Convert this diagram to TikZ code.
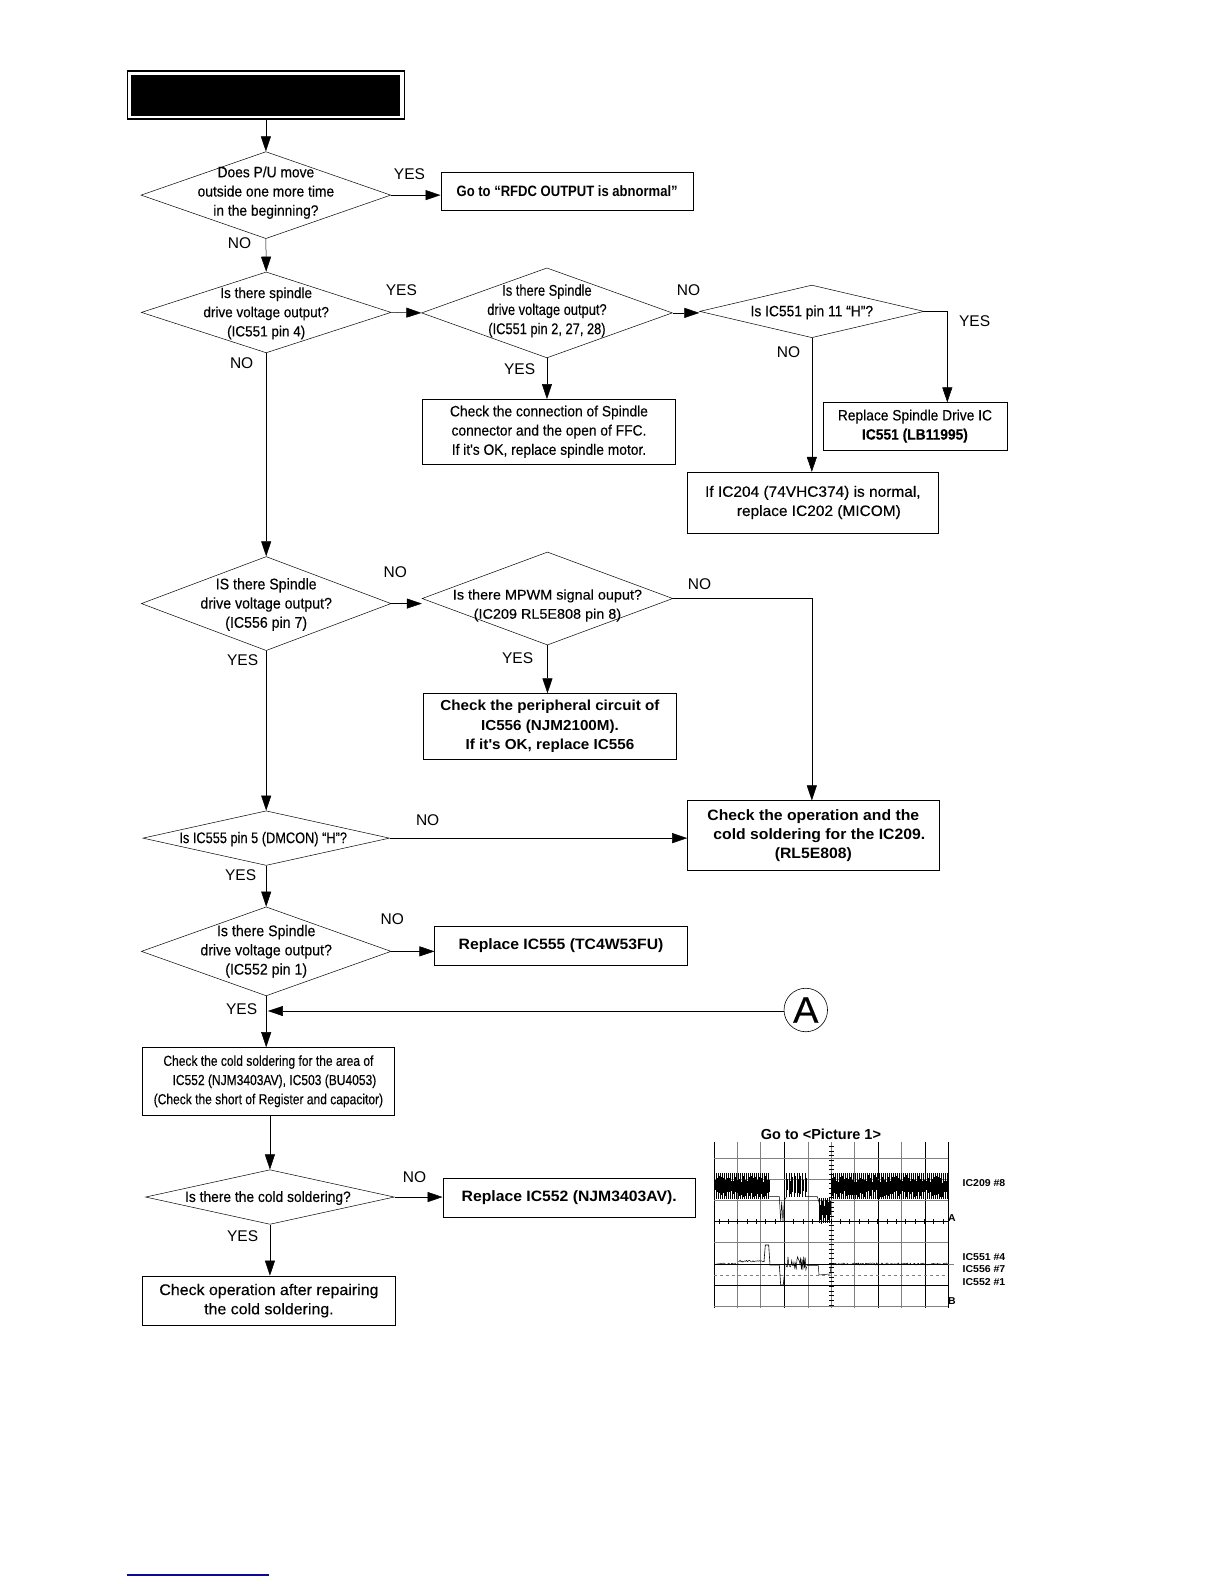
\documentclass[tikz,border=0pt]{standalone}
\usepackage{fontspec}
\setmainfont{Liberation Sans}
\newfontfamily\snugfont[FakeStretch=0.83,FakeBold=0.25]{Liberation Sans}
\newfontfamily\midfont[FakeStretch=0.92,FakeBold=0.25]{Liberation Sans}
\newfontfamily\fullfont[FakeStretch=1.03,FakeBold=0.25]{Liberation Sans}
\newfontfamily\heavyfont[FakeStretch=1.05,UprightFont=* Bold]{Liberation Sans}
\newfontfamily\heavysnug[FakeStretch=0.87,UprightFont=* Bold]{Liberation Sans}
\usetikzlibrary{shapes.geometric,arrows.meta}
\tikzset{
  decide/.style 2 args={draw,diamond,inner sep=0pt,minimum width=1.011*#1,minimum height=1.011*#2,line width=0.5pt,aspect=2.8},
  qtext/.style={align=center,font=\midfont\fontsize{15}{19.2}\selectfont,inner sep=0pt},
  actbox/.style 2 args={draw,rectangle,inner sep=0pt,minimum width=1.011*#1,minimum height=1.011*#2,line width=0.5pt,align=center,font=\midfont\fontsize{15}{19.2}\selectfont},
  actboxb/.style 2 args={actbox={#1}{#2},font=\heavyfont\fontsize{15}{19.2}\selectfont},
  answer/.style={font=\fontsize{15.5}{18}\selectfont,inner sep=0pt},
  gridgray/.style={draw=black!50,line width=0.5pt},
  gridblack/.style={draw=black,line width=0.7pt},
  scopetext/.style={font=\heavyfont\fontsize{10}{12}\selectfont,inner sep=0pt,anchor=center}
}
\newcommand{\noiseblock}[4]{%
  \foreach \xn in {#1,...,#2} {
    \pgfmathsetmacro\yta{#3+6+rnd*22}
    \pgfmathsetmacro\ytb{#4-6-rnd*22}
    \draw[line width=0.4pt] (\xn,#3) -- (\xn,#4);
    \draw[line width=0.8pt] (\xn+3,\yta) -- (\xn+3,\ytb);
  }}
\begin{document}
\begin{tikzpicture}[x=1.011pt,y=-1.011pt]
  \useasboundingbox (0pt,0pt) rectangle (1224pt,-1584pt);
  \fill[white] (0pt,0pt) rectangle (1224pt,-1584pt);
  % top box
  \node (title) at (263,94) [draw,fill=white,line width=1.2pt,minimum width=277,minimum height=48,inner sep=0pt] {};
  \node (titlefill) at (title) [fill=black,minimum width=269,minimum height=41,inner sep=0pt] {};
  % first column
  \node (d1) at (263,193) [decide={247}{86},label={[qtext,yshift=2.5pt]center:{Does P/U move\\outside one more time\\in the beginning?}}] {};
  \node (d2) at (263.3,309) [decide={247}{80},label={[qtext,yshift=-1pt,font=\midfont\fontsize{14.7}{19.2}\selectfont]center:{Is there spindle\\drive voltage output?\\(IC551 pin 4)}}] {};
  \node (d5) at (263.3,597) [decide={247}{93},label={[qtext,yshift=-1pt,font=\midfont\fontsize{15.4}{19.2}\selectfont]center:{IS there Spindle\\drive voltage output?\\(IC556 pin 7)}}] {};
  \node (d7) at (263.3,829) [decide={244}{54},label={[qtext,xshift=-3pt,yshift=-1pt,font=\snugfont\fontsize{15.4}{19}\selectfont]center:{Is IC555 pin 5 (DMCON) “H”?}}] {};
  \node (d8) at (263.3,941) [decide={247}{88},label={[qtext,font=\midfont\fontsize{15.4}{19.2}\selectfont]center:{Is there Spindle\\drive voltage output?\\(IC552 pin 1)}}] {};
  \node (b9) at (265.5,1069.5) [actbox={249}{67},font=\snugfont\fontsize{14.5}{19.2}\selectfont] {Check the cold soldering for the area of\\\hspace*{12pt}IC552 (NJM3403AV), IC503 (BU4053)\\(Check the short of Register and capacitor)};
  \node (d9) at (267,1184) [decide={246}{54},label={[qtext,xshift=-2pt,yshift=-1pt]center:{Is there the cold soldering?}}] {};
  \node (b11) at (266,1286.5) [actbox={250}{49},font=\fullfont\fontsize{15.5}{19.2}\selectfont] {Check operation after repairing\\the cold soldering.};
  % second column
  \node (r1) at (561,189) [actboxb={250}{38},font=\heavysnug\fontsize{15}{19}\selectfont] {Go to “RFDC OUTPUT is abnormal”};
  \node (d3) at (541,309.5) [decide={248}{89},label={[qtext,yshift=2pt,font=\snugfont\fontsize{15.5}{19.2}\selectfont]center:{Is there Spindle\\drive voltage output?\\(IC551 pin 2, 27, 28)}}] {};
  \node (b3) at (543,427) [actbox={250}{64}] {Check the connection of Spindle\\connector and the open of FFC.\\If it's OK, replace spindle motor.};
  \node (d6) at (541.5,592) [decide={248}{92},label={[qtext,yshift=-7pt,font=\fullfont\fontsize{14}{19.2}\selectfont]center:{Is there MPWM signal ouput?\\(IC209 RL5E808 pin 8)}}] {};
  \node (b6) at (544,718.5) [actboxb={250}{65},font=\heavyfont\fontsize{14.5}{19.2}\selectfont] {Check the peripheral circuit of\\IC556 (NJM2100M).\\If it's OK, replace IC556};
  \node (b8) at (555,935.5) [actboxb={250}{39}] {Replace IC555 (TC4W53FU)};
  \node (b10) at (563,1184.5) [actboxb={250}{39}] {Replace IC552 (NJM3403AV).};
  % third column
  \node (d4) at (803,308) [decide={222}{52},label={[qtext,yshift=-1pt]center:{Is IC551 pin 11 “H”?}}] {};
  \node (b4) at (905,421.5) [actbox={182}{47}] {Replace Spindle Drive IC\\\textbf{IC551 (LB11995)}};
  \node (b5) at (804,497) [actbox={248}{60},font=\fullfont\fontsize{15}{19.2}\selectfont] {If IC204 (74VHC374) is normal,\\\hspace*{12pt}replace IC202 (MICOM)};
  \node (b7) at (804.5,826.5) [actboxb={249}{69}] {Check the operation and the\\\hspace*{12pt}cold soldering for the IC209.\\(RL5E808)};
  \node (cA) at (797,999) [draw,circle,minimum size=43.5,inner sep=0pt,line width=0.6pt,font=\fullfont\fontsize{37}{40}\selectfont] {A};
  \coordinate (jA) at (265,1000);
  \coordinate (b4in) at (937,398);
  % answers
  \node (yes1) at (405,172) [answer] {YES};
  \node (no1) at (237,241) [answer] {NO};
  \node (yes2) at (397,287) [answer] {YES};
  \node (no2) at (239,359) [answer] {NO};
  \node (no3) at (681,287) [answer] {NO};
  \node (yes3) at (964,318) [answer] {YES};
  \node (no4) at (780,348) [answer] {NO};
  \node (yes4) at (514,365) [answer] {YES};
  \node (no5) at (391,566) [answer] {NO};
  \node (no6) at (692,578) [answer] {NO};
  \node (yes5) at (512,651) [answer] {YES};
  \node (yes6) at (240,653) [answer] {YES};
  \node (no7) at (423,811) [answer] {NO};
  \node (yes7) at (238,866) [answer] {YES};
  \node (no8) at (388,909) [answer] {NO};
  \node (yes8) at (239,998) [answer] {YES};
  \node (no9) at (410,1164) [answer] {NO};
  \node (yes9) at (240,1223) [answer] {YES};
  % connectors
  \begin{scope}[-{Triangle[length=15pt,width=10pt]},line width=0.5pt]
    \draw (title.south -| d1.north) to (d1.north);
    \draw (d1.east) to (d1.east -| r1.west);
    \draw (d1.south) to (d2.north);
    \draw (d2.east) to (d3.west);
    \draw (d3.east) to (d3.east -| d4.west);
    \draw (d3.south) to (d3.south |- b3.north);
    \draw (d4.south) to (d4.south |- b5.north);
    \draw (d4.east) -| (b4in);
    \draw (d2.south) to (d5.north);
    \draw (d5.east) to (d5.east -| d6.west);
    \draw (d6.south) to (d6.south |- b6.north);
    \draw (d6.east) -| (d4.south |- b7.north);
    \draw (d5.south) to (d7.north);
    \draw (d7.east) to (d7.east -| b7.west);
    \draw (d7.south) to (d8.north);
    \draw (d8.east) to (d8.east -| b8.west);
    \draw (d8.south) to (d8.south |- b9.north);
    \draw (jA -| cA.west) to (jA);
    \draw (d9.north |- b9.south) to (d9.north);
    \draw (d9.east) to (d9.east -| b10.west);
    \draw (d9.south) to (d9.south |- b11.north);
  \end{scope}
  % scope picture, in crop pixels
  \begin{scope}[shift={(690pt,-1100pt)},x=0.3333pt,y=-0.3333pt]
    \foreach \gx in {142,211,355,424,493,634} \draw[gridgray] (\gx,125) -- (\gx,625);
    \foreach \gx in {73,283,565,706,775} \draw[gridblack] (\gx,125) -- (\gx,625);
    \foreach \gy in {175,238,300,427,620} \draw[gridgray] (73,\gy) -- (775,\gy);
    \foreach \gy in {365,492,556} \draw[gridblack] (73,\gy) -- (775,\gy);
    \draw[gridgray] (775,492) -- (792,492);
    \draw[dashed,gridgray] (73,525) -- (775,525);
    \foreach \ty in {139,153,...,620} \draw[line width=0.4pt] (417,\ty) -- (431,\ty);
    \foreach \tx in {87,115,...,775} \draw[line width=0.5pt] (\tx,358) -- (\tx,372);
    % upper trace
    \pgfmathsetseed{11}
    \noiseblock{73,79}{238}{220}{298}
    \noiseblock{289,297}{348}{218}{292}
    \noiseblock{388,394}{418}{295}{370}
    \noiseblock{424,430}{772}{220}{298}
    \draw[line width=0.5pt] (238,290) -- (268,290) -- (272,365) -- (275,305) -- (279,365) -- (283,300) -- (289,292);
    \draw[line width=0.5pt] (348,290) -- (382,290) -- (388,310);
    % lower trace
    \draw[line width=0.5pt] plot[domain=73:145,samples=30] (\x,{492+rnd*6-3});
    \draw[line width=0.5pt] plot[domain=145:225,samples=30] (\x,{484+rnd*6-3});
    \draw[line width=0.6pt] (222,484) -- (226,435) -- (236,435) -- (240,495) -- (268,495) -- (272,555) -- (280,555) -- (285,500);
    \draw[line width=0.5pt] plot[domain=285:350,samples=30] (\x,{490+rnd*40-20});
    \draw[line width=0.5pt] (350,497) -- (385,497) -- (387,525) -- (420,522) -- (424,492);
    \draw[line width=0.5pt] plot[domain=424:775,samples=130] (\x,{492+rnd*6-3});
    % scope texts
    \node (gotopic) at (393,102) [font=\bfseries\fontsize{14.5}{16}\selectfont,inner sep=0pt] {Go to <Picture 1>};
    \node (ic209) at (882,250) [scopetext] {IC209 \#8};
    \node (ic551) at (882,470) [scopetext] {IC551 \#4};
    \node (ic556) at (882,507) [scopetext] {IC556 \#7};
    \node (ic552) at (882,545) [scopetext] {IC552 \#1};
    \node (chA) at (786,355) [scopetext] {A};
    \node (chB) at (786,602) [scopetext] {B};
  \end{scope}
  % line at page foot
  \draw[draw={rgb,255:red,10;green,10;blue,150},line width=1.2pt] (127pt,-1575pt) -- (269pt,-1575pt);
\end{tikzpicture}
\end{document}
